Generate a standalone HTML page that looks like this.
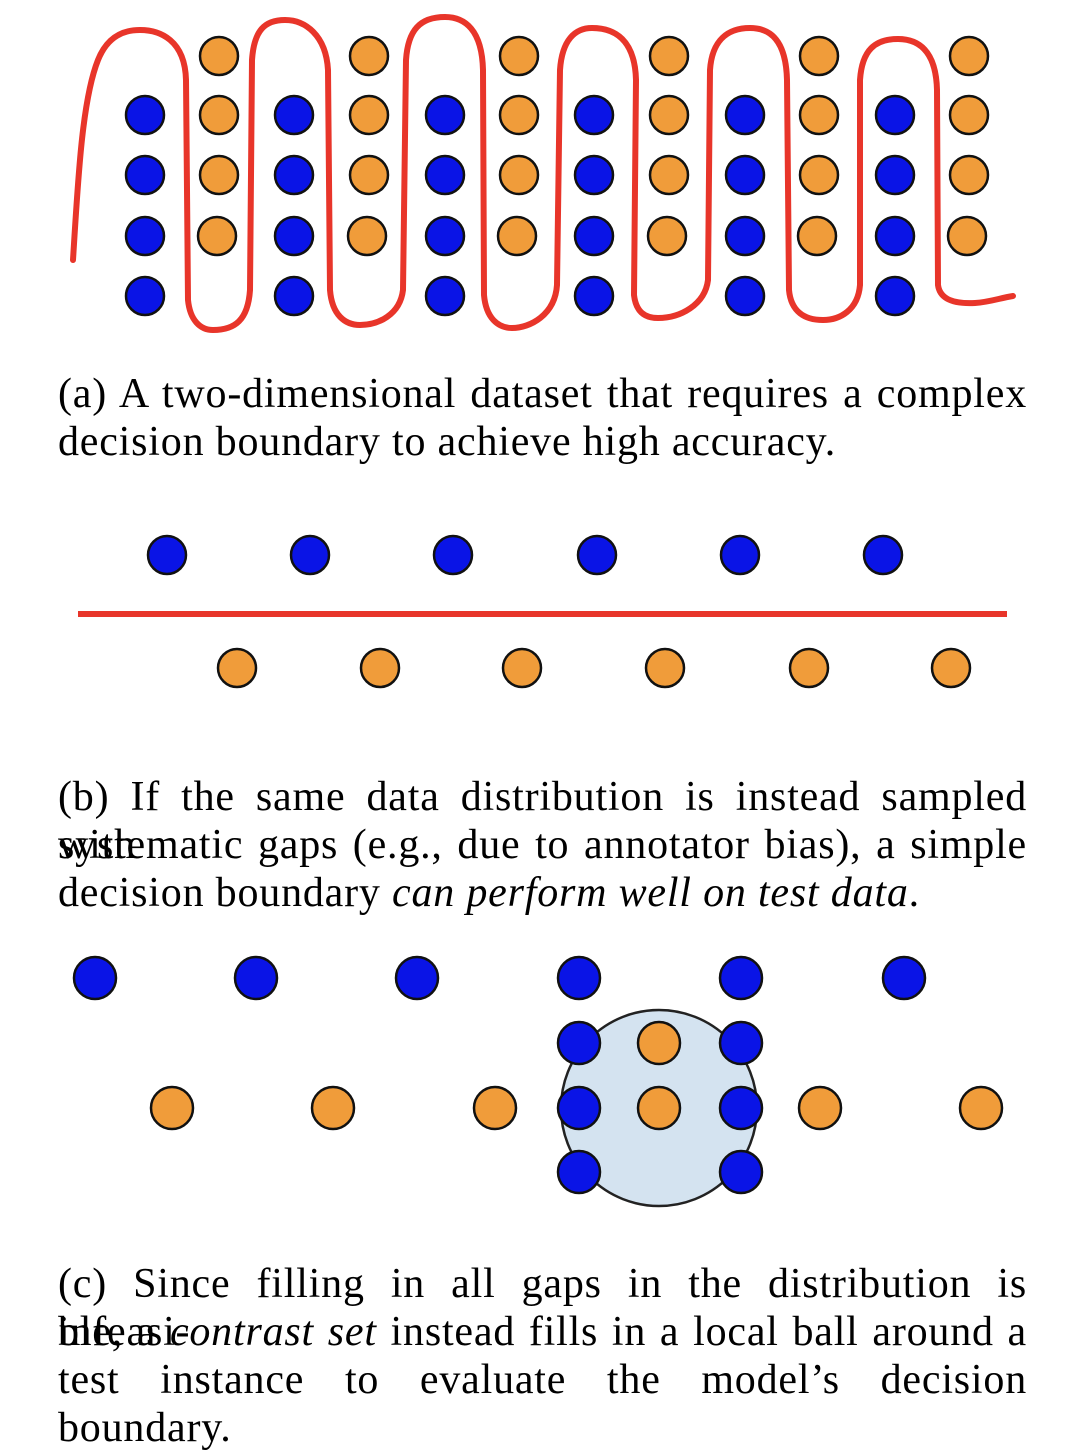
<!DOCTYPE html>
<html><head><meta charset="utf-8"><style>
html,body{margin:0;padding:0;background:#fff;}
body{width:1076px;height:1448px;position:relative;overflow:hidden;}
svg{position:absolute;left:0;top:0;}
.t{position:absolute;left:58px;width:969px;font-family:"Liberation Serif",serif;font-size:42px;letter-spacing:0.8px;line-height:48px;color:#000;white-space:nowrap;}
.j{text-align:justify;text-align-last:justify;white-space:normal;}
</style></head><body>
<svg width="1076" height="1448" viewBox="0 0 1076 1448">
<g stroke="#111" stroke-width="2.5">
<g fill="#0a14e6">
<circle cx="145" cy="115" r="19"/><circle cx="145" cy="175" r="19"/><circle cx="145" cy="236" r="19"/><circle cx="145" cy="296" r="19"/>
<circle cx="294" cy="115" r="19"/><circle cx="294" cy="175" r="19"/><circle cx="294" cy="236" r="19"/><circle cx="294" cy="296" r="19"/>
<circle cx="445" cy="115" r="19"/><circle cx="445" cy="175" r="19"/><circle cx="445" cy="236" r="19"/><circle cx="445" cy="296" r="19"/>
<circle cx="594" cy="115" r="19"/><circle cx="594" cy="175" r="19"/><circle cx="594" cy="236" r="19"/><circle cx="594" cy="296" r="19"/>
<circle cx="745" cy="115" r="19"/><circle cx="745" cy="175" r="19"/><circle cx="745" cy="236" r="19"/><circle cx="745" cy="296" r="19"/>
<circle cx="895" cy="115" r="19"/><circle cx="895" cy="175" r="19"/><circle cx="895" cy="236" r="19"/><circle cx="895" cy="296" r="19"/>
</g>
<g fill="#f09c3a">
<circle cx="219" cy="56" r="19"/><circle cx="219" cy="115" r="19"/><circle cx="219" cy="175" r="19"/><circle cx="217" cy="236" r="19"/>
<circle cx="369" cy="56" r="19"/><circle cx="369" cy="115" r="19"/><circle cx="369" cy="175" r="19"/><circle cx="367" cy="236" r="19"/>
<circle cx="519" cy="56" r="19"/><circle cx="519" cy="115" r="19"/><circle cx="519" cy="175" r="19"/><circle cx="517" cy="236" r="19"/>
<circle cx="669" cy="56" r="19"/><circle cx="669" cy="115" r="19"/><circle cx="669" cy="175" r="19"/><circle cx="667" cy="236" r="19"/>
<circle cx="819" cy="56" r="19"/><circle cx="819" cy="115" r="19"/><circle cx="819" cy="175" r="19"/><circle cx="817" cy="236" r="19"/>
<circle cx="969" cy="56" r="19"/><circle cx="969" cy="115" r="19"/><circle cx="969" cy="175" r="19"/><circle cx="967" cy="236" r="19"/>
</g>
</g>
<path d="M73,260 C78,180 82,100 98,60 C108,35 125,30 140,30 C160,30 185,40 186,80 L188,300 C190,320 200,330 213,330 C235,330 248,320 250,290 L252,60 C254,30 265,20 285,20 C305,20 326,35 328,70 L330,290 C332,315 345,325 360,325 C378,325 400,315 403,290 L406,60 C408,30 420,17 445,17 C465,17 482,30 483,70 L484,295 C486,318 498,328 512,328 C530,328 555,315 557,285 L560,70 C562,40 575,28 592,28 C615,28 635,40 636,80 L634,295 C636,312 645,318 658,318 C680,318 705,305 708,280 L710,70 C712,40 728,28 750,28 C770,28 786,40 787,80 L789,290 C791,312 805,320 823,320 C840,320 858,310 860,285 L860,80 C862,50 875,39 898,39 C918,39 936,50 937,90 L938,285 C940,300 955,304 975,303 C990,302 1000,298 1013,296" fill="none" stroke="#e8352a" stroke-width="6" stroke-linecap="round"/>
<g stroke="#111" stroke-width="2.5">
<g fill="#0a14e6">
<circle cx="167" cy="555" r="19"/><circle cx="310" cy="555" r="19"/><circle cx="453" cy="555" r="19"/><circle cx="597" cy="555" r="19"/><circle cx="740" cy="555" r="19"/><circle cx="883" cy="555" r="19"/>
</g>
<g fill="#f09c3a">
<circle cx="237" cy="668" r="19"/><circle cx="380" cy="668" r="19"/><circle cx="522" cy="668" r="19"/><circle cx="665" cy="668" r="19"/><circle cx="809" cy="668" r="19"/><circle cx="951" cy="668" r="19"/>
</g>
</g>
<line x1="78" y1="614" x2="1007" y2="614" stroke="#e8352a" stroke-width="6"/>
<circle cx="659" cy="1108" r="98" fill="#d4e3f0" stroke="#222" stroke-width="2.5"/>
<g stroke="#111" stroke-width="2.5">
<g fill="#0a14e6">
<circle cx="95" cy="978" r="21"/><circle cx="256" cy="978" r="21"/><circle cx="417" cy="978" r="21"/><circle cx="579" cy="978" r="21"/><circle cx="741" cy="978" r="21"/><circle cx="904" cy="978" r="21"/>
<circle cx="579" cy="1043" r="21"/><circle cx="741" cy="1043" r="21"/><circle cx="579" cy="1108" r="21"/><circle cx="741" cy="1108" r="21"/><circle cx="579" cy="1172" r="21"/><circle cx="741" cy="1172" r="21"/>
</g>
<g fill="#f09c3a">
<circle cx="659" cy="1043" r="21"/><circle cx="659" cy="1108" r="21"/>
<circle cx="172" cy="1108" r="21"/><circle cx="333" cy="1108" r="21"/><circle cx="495" cy="1108" r="21"/><circle cx="820" cy="1108" r="21"/><circle cx="981" cy="1108" r="21"/>
</g>
</g>
</svg>
<div class="t j" style="top:370px">(a) A two-dimensional dataset that requires a complex</div>
<div class="t" style="top:418px">decision boundary to achieve high accuracy.</div>
<div class="t j" style="top:773px">(b) If the same data distribution is instead sampled with</div>
<div class="t j" style="top:821px">systematic gaps (e.g., due to annotator bias), a simple</div>
<div class="t" style="top:869px">decision boundary <i>can perform well on test data</i>.</div>
<div class="t j" style="top:1260px">(c) Since filling in all gaps in the distribution is infeasi-</div>
<div class="t j" style="top:1308px">ble, a <i>contrast set</i> instead fills in a local ball around a</div>
<div class="t j" style="top:1356px">test instance to evaluate the model’s decision boundary.</div>
</body></html>
